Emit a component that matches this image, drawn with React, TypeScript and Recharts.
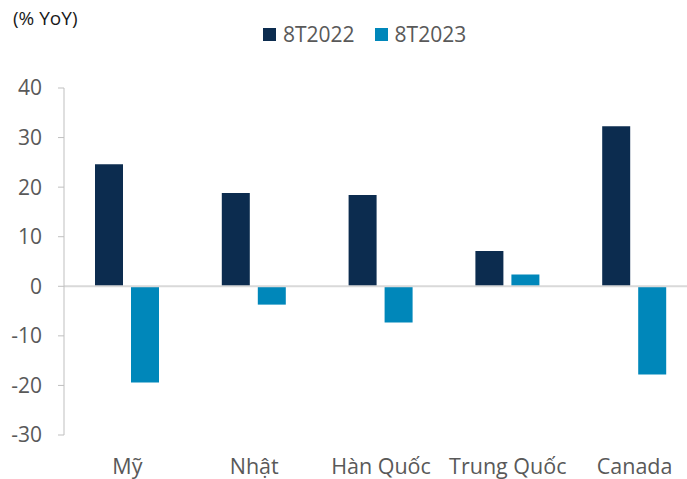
import { Bar, BarChart, ReferenceLine, XAxis, YAxis } from "recharts";

const COUNTRIES = ["Mỹ", "Nhật", "Hàn Quốc", "Trung Quốc", "Canada"];
const Y2022 = [24.6, 18.8, 18.4, 7.1, 32.3];
const Y2023 = [-19.4, -3.7, -7.3, 2.4, -17.8];
const Y_TICKS = [-30, -20, -10, 0, 10, 20, 30, 40];

const SERIES = [
  { key: "y2022", name: "8T2022", color: "#0C2C4F" },
  { key: "y2023", name: "8T2023", color: "#0087BA" },
];

const data = COUNTRIES.map((name, i) => ({ name, y2022: Y2022[i], y2023: Y2023[i] }));

const FONT = "'Open Sans', 'Noto Sans', sans-serif";

const LegendTop = () => (
  <div style={{ display: "flex", alignItems: "center", fontFamily: FONT, fontSize: 21, color: "#595959" }}>
    {SERIES.map((s, i) => (
      <div key={s.key} style={{ display: "flex", alignItems: "center", marginLeft: i ? 20 : 0 }}>
        <span style={{ width: 13, height: 13, background: s.color, marginRight: 7, display: "inline-block" }} />
        <span>{s.name}</span>
      </div>
    ))}
  </div>
);

export default function App() {
  return (
    <div style={{ position: "absolute", left: 0, top: 0, width: 687, height: 479, overflow: "hidden", background: "#fff" }}>
      <BarChart
        width={698}
        height={479}
        data={data}
        margin={{ top: 88, right: 0, bottom: 0, left: 0 }}
        barSize={28}
        barGap={8}
      >
        <XAxis
          dataKey="name"
          axisLine={false}
          tickLine={false}
          tickSize={0}
          tickMargin={24}
          height={44}
          tick={{ fontSize: 21.5, fill: "#595959", fontFamily: FONT }}
        />
        <YAxis
          domain={[-30, 40]}
          ticks={Y_TICKS}
          width={64}
          interval={0}
          axisLine={{ stroke: "#BFBFBF" }}
          tickLine={{ stroke: "#BFBFBF" }}
          tickSize={6}
          tickMargin={16}
          tick={{ fontSize: 21, fill: "#595959", fontFamily: FONT }}
        />
        {SERIES.map((s) => (
          <Bar key={s.key} dataKey={s.key} name={s.name} fill={s.color} isAnimationActive={false} />
        ))}
        <ReferenceLine y={0} stroke="#D9D9D9" strokeWidth={2} ifOverflow="extendDomain" />
      </BarChart>
      <div style={{ position: "absolute", left: 13, top: 5, fontFamily: FONT, fontSize: 19, color: "#1a1a1a" }}>
        (% YoY)
      </div>
      <div style={{ position: "absolute", left: 263, top: 20 }}>
        <LegendTop />
      </div>
    </div>
  );
}
